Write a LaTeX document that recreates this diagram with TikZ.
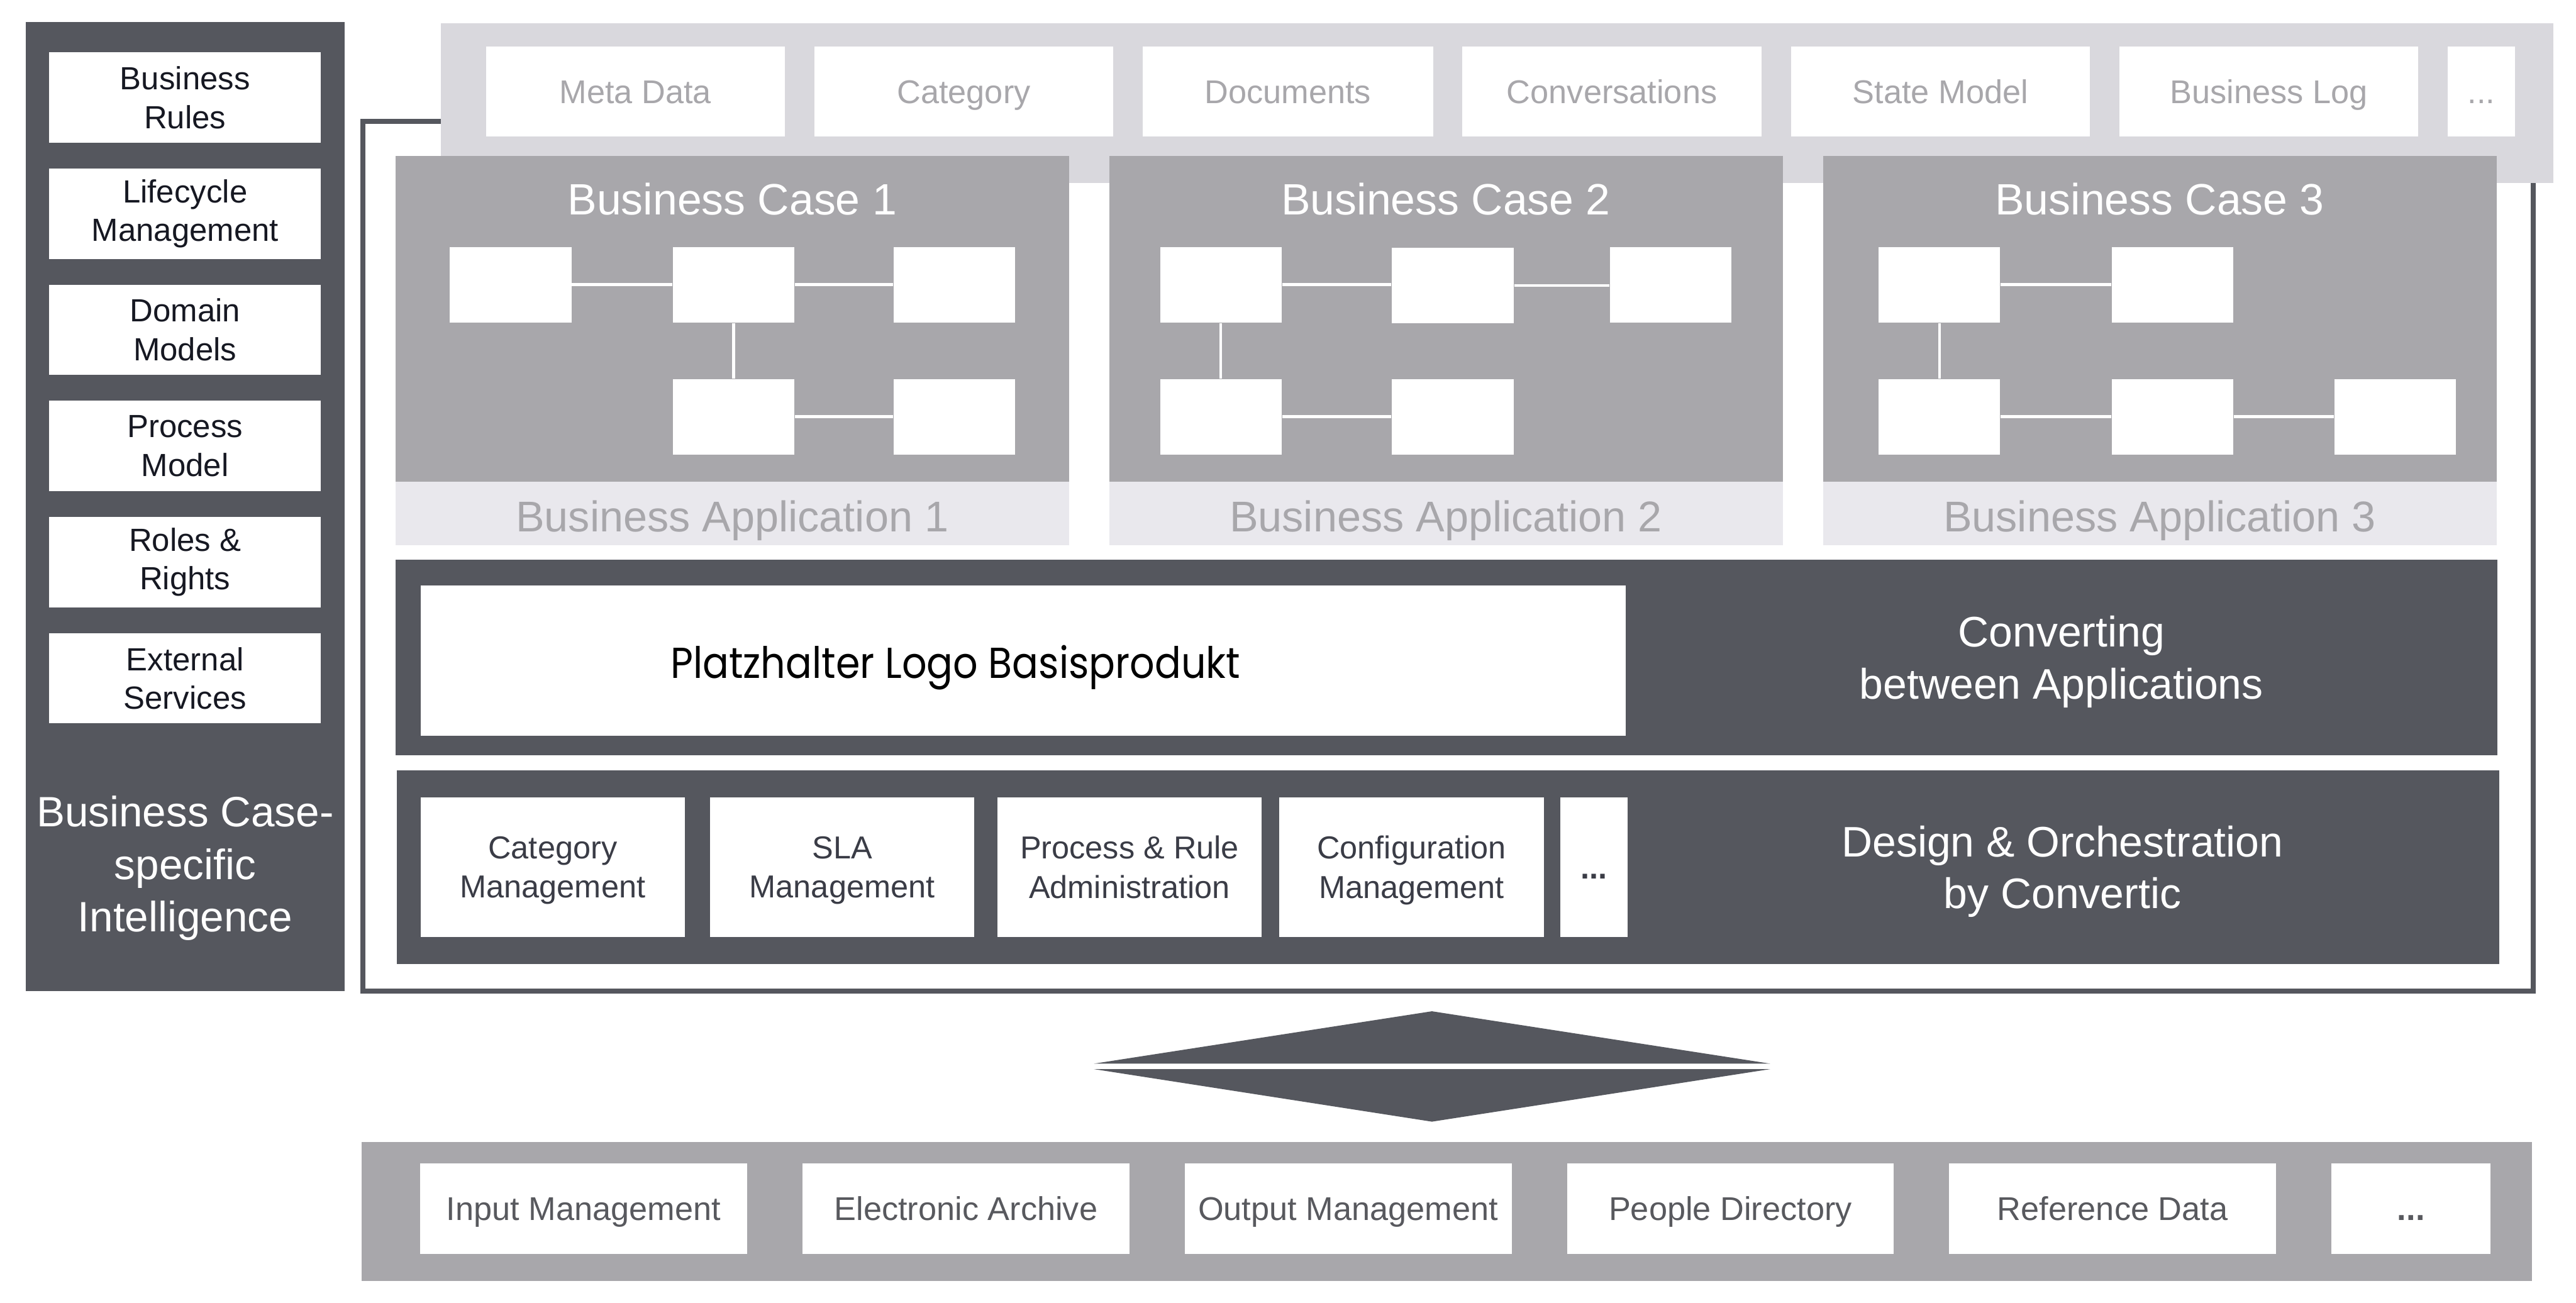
\documentclass[tikz,border=0pt]{standalone}
\usepackage{fontspec}
\setmainfont{Liberation Sans}
\newfontfamily\logofont{Poppins}[FakeStretch=0.9]
\usetikzlibrary{positioning}
\definecolor{convdark}{RGB}{85,87,94}
\definecolor{convmid}{RGB}{168,167,171}
\definecolor{convlight}{RGB}{217,216,221}
\definecolor{convpale}{RGB}{233,232,237}
\definecolor{inktext}{RGB}{22,24,34}
\definecolor{slatetext}{RGB}{58,60,70}
\definecolor{greytext}{RGB}{88,89,94}

\begin{document}
\begin{tikzpicture}[
  x=0.02cm, y=-0.02cm,
  rulebox/.style={fill=white, inner sep=0pt, align=center,
                  minimum width=3.306cm, minimum height=1.1cm,
                  text=inktext, font=\fontsize{11.1}{13.4}\selectfont},
  databox/.style={fill=white, inner sep=0pt,
                  minimum width=3.64cm, minimum height=1.1cm,
                  text=convmid, text height=8.2pt, text depth=0pt,
                  font=\fontsize{11.4}{13.7}\selectfont},
  stepnode/.style={fill=white, inner sep=0pt,
                   minimum width=1.48cm, minimum height=0.92cm},
  link/.style={white, line width=1pt},
  casetitle/.style={anchor=base, text=white, font=\fontsize{15.2}{18}\selectfont},
  apptitle/.style={anchor=base, text=convmid, font=\fontsize{14.9}{18}\selectfont},
  toolbox/.style={fill=white, inner sep=0pt, align=center,
                  minimum width=3.22cm, minimum height=1.7cm,
                  text=slatetext, text depth=0pt, font=\fontsize{11}{13.7}\selectfont},
  basebox/.style={fill=white, inner sep=0pt,
                  minimum width=3.98cm, minimum height=1.1cm,
                  text=greytext, text height=8.2pt, text depth=0pt,
                  font=\fontsize{11.4}{13.7}\selectfont},
  layertext/.style={text=white, align=center, font=\fontsize{14.8}{18}\selectfont}
]
\useasboundingbox (0,0) rectangle (1568,793);

\fill[convdark] (15.6,13.3) rectangle (209.9,603.4);
\foreach \txt [count=\i from 0] in {Business\\Rules, Lifecycle\\Management, Domain\\Models,
    Process\\Model, Roles \&\\Rights, External\\Services}
  \node[rulebox] (rule\i) at (112.65,59.4+70.7*\i) {\txt};
\node[text=white, align=center, font=\fontsize{14.7}{18.2}\selectfont] (intel)
  at (112.7,528.5) {Business Case-\\specific\\Intelligence};

\draw[convdark, line width=0.06cm] (221,74) rectangle (1542,603.3);

\fill[convlight] (268.3,14.3) rectangle (1554.3,111.4);
\node[databox] (meta) at (386.75,55.75) {Meta Data};
\node[databox, right=0.345cm of meta] (category) {Category};
\node[databox, right=0.345cm of category, minimum width=3.534cm] (documents) {Documents};
\node[databox, right=0.345cm of documents] (conversations) {Conversations};
\node[databox, right=0.345cm of conversations] (statemodel) {State Model};
\node[databox, right=0.345cm of statemodel] (businesslog) {Business Log};
\node[databox, right=0.345cm of businesslog, minimum width=0.82cm] (moredata) {...};

\foreach \i/\x in {1/240.7, 2/675.1, 3/1109.6} {
  \fill[convmid] (\x,94.8) rectangle ++(410,198.6);
  \fill[convpale] (\x,293.4) rectangle ++(410,38.5);
  \node[casetitle] (case\i) at (\x+205,130.6) {Business Case \i};
  \node[apptitle] (app\i) at (\x+205,323.8) {Business Application \i};
}

\node[stepnode] (c1a) at (310.8,173.3) {};
\node[stepnode] (c1b) at (446.5,173.3) {};
\node[stepnode] (c1c) at (581,173.3) {};
\node[stepnode] (c1d) at (446.5,253.7) {};
\node[stepnode] (c1e) at (581,253.7) {};
\draw[link] (c1a) -- (c1b);
\draw[link] (c1b) -- (c1c);
\draw[link] (c1b) -- (c1d);
\draw[link] (c1d) -- (c1e);

\node[stepnode] (c2a) at (743.1,173.3) {};
\node[stepnode] (c2b) at (884.3,173.8) {};
\node[stepnode] (c2c) at (1016.9,173.3) {};
\node[stepnode] (c2d) at (743.1,253.7) {};
\node[stepnode] (c2e) at (884.3,253.7) {};
\draw[link] (c2a) -- (c2a -| c2b.west);
\draw[link] (c2b) -- (c2b -| c2c.west);
\draw[link] (c2a) -- (c2d);
\draw[link] (c2d) -- (c2e);

\node[stepnode] (c3a) at (1180.5,173.3) {};
\node[stepnode] (c3b) at (1322.3,173.3) {};
\node[stepnode] (c3d) at (1180.5,253.7) {};
\node[stepnode] (c3e) at (1322.3,253.7) {};
\node[stepnode] (c3f) at (1457.9,253.7) {};
\draw[link] (c3a) -- (c3b);
\draw[link] (c3a) -- (c3d);
\draw[link] (c3d) -- (c3e);
\draw[link] (c3e) -- (c3f);

\fill[convdark] (240.7,340.8) rectangle (1520.2,459.7);
\node[fill=white, inner sep=0pt, minimum width=14.678cm, minimum height=1.832cm] (logo)
  at (622.85,402) {};
\node[anchor=base, text=black, font=\logofont\fontsize{15}{18}\selectfont] (logotext)
  at (581.6,412.7) {Platzhalter Logo Basisprodukt};
\node[layertext] (converting) at (1254.8,403) {Converting\\between Applications};

\fill[convdark] (241.7,468.8) rectangle (1521.3,586.7);
\node[toolbox] (catmgmt) at (336.45,527.85) {Category\\Management};
\node[toolbox, right=0.29cm of catmgmt] (slamgmt) {SLA\\Management};
\node[toolbox, right=0.265cm of slamgmt] (ruleadmin) {Process \& Rule\\Administration};
\node[toolbox, right=0.2cm of ruleadmin] (configmgmt) {Configuration\\Management};
\node[toolbox, right=0.19cm of configmgmt, minimum width=0.82cm,
      text height=8pt] (moretools) {\textbf{...}};
\node[layertext] (design) at (1255.4,530.5) {Design \& Orchestration\\by Convertic};

\fill[convdark] (665.8,647.5) -- (871.6,615.6) -- (1077.6,647.5) -- cycle;
\fill[convdark] (665.8,650.8) -- (1077.6,650.8) -- (871.6,682.8) -- cycle;

\fill[convmid] (220,695) rectangle (1541.2,779.9);
\node[basebox] (input) at (355.3,735.8) {Input Management};
\node[basebox, right=0.66cm of input] (archive) {Electronic Archive};
\node[basebox, right=0.66cm of archive] (output) {Output Management};
\node[basebox, right=0.66cm of output] (people) {People Directory};
\node[basebox, right=0.66cm of people] (refdata) {Reference Data};
\node[basebox, right=0.66cm of refdata, minimum width=1.94cm] (moreservices) {\textbf{...}};
\end{tikzpicture}
\end{document}
